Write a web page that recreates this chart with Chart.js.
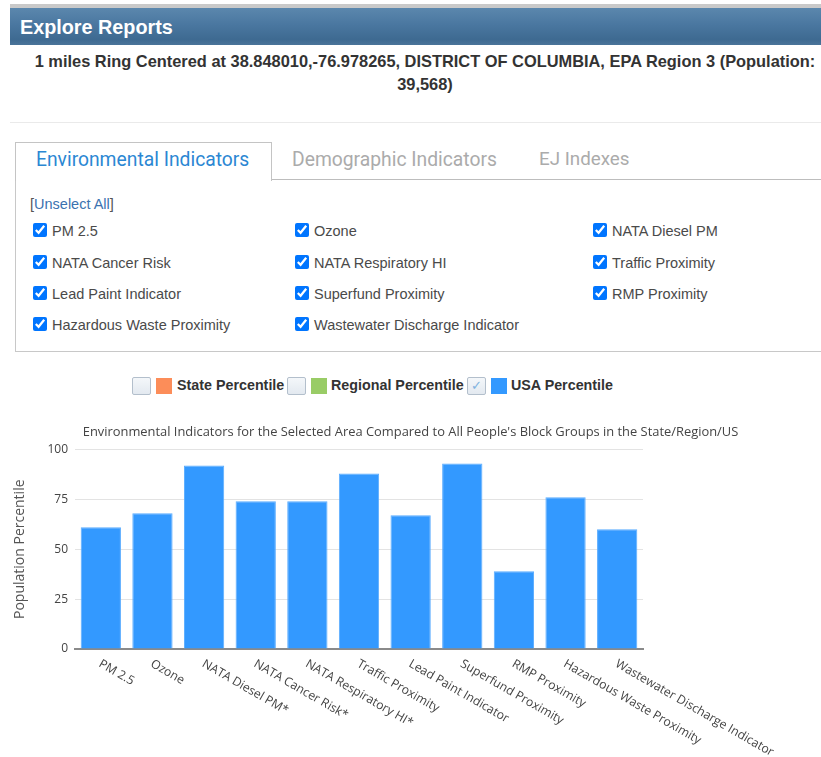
<!DOCTYPE html>
<html>
<head>
<meta charset="utf-8">
<script src="https://cdn.jsdelivr.net/npm/chart.js@4.4.1/dist/chart.umd.min.js"></script>
<style>
  html, body { margin:0; padding:0; background:#fff; }
  body { width:821px; height:757px; overflow:hidden; position:relative; font-family:"Liberation Sans", Arial, sans-serif; }
  .abs { position:absolute; white-space:nowrap; }
  #topline { left:10px; top:4px; width:830px; height:4px; background:#c9c9c9; }
  #header { left:10px; top:8px; width:830px; height:37px;
    background:linear-gradient(to bottom, #5b87ad 0%, #4a77a0 45%, #3e6a91 85%, #4a7499 100%); }
  #header span { position:absolute; left:10px; top:8px; font:bold 19.8px "Liberation Sans", Arial, sans-serif; color:#fff; }
  #subtitle { left:10px; top:50px; width:830px; text-align:center; font:bold 16.4px "Liberation Sans", Arial, sans-serif; line-height:23px; color:#333; white-space:normal; }
  #hr { left:10px; top:122px; width:830px; height:1px; background:#eaeaea; }
  #tabActive { left:15px; top:142px; width:255px; height:38px; border:1px solid #c4c4c4; border-bottom:none; background:#fff; }
  .tab { font:19.3px Roboto, "Open Sans", sans-serif; top:148px; }
  #tabLine { left:271px; top:179px; width:570px; height:1px; background:#bdbdbd; }
  #panel { left:15px; top:180px; width:830px; height:171px; border:1px solid #c8c8c8; border-top:none; }
  #unselect { left:30px; top:196px; font:14.5px "Liberation Sans", Arial, sans-serif; color:#555; }
  #unselect a { color:#3b72b0; text-decoration:none; }
  .cb { position:absolute; display:flex; align-items:center; font:14.5px "Liberation Sans", Arial, sans-serif; color:#4a4a4a; white-space:nowrap; height:16px; }
  .cb input { margin:0 5px 0 0; width:14px; height:14px; position:relative; top:-1px; }
  .lgbox { position:absolute; width:17px; height:16px; border:1px solid #b3bfcc; background:linear-gradient(#f4f7fa,#e3e9f0); border-radius:2px; top:377px; color:#7fb2e0; font:bold 13px "DejaVu Sans", sans-serif; text-align:center; line-height:16px; }
  .lgsw { position:absolute; width:16px; height:16px; top:378px; }
  .lgtx { position:absolute; top:377px; font:bold 14.3px "Liberation Sans", Arial, sans-serif; color:#333; line-height:17px; white-space:nowrap; }
  #chartWrap { position:absolute; left:0; top:415px; width:821px; height:342px; }
</style>
</head>
<body>
<div class="abs" id="topline"></div>
<div class="abs" id="header"><span>Explore Reports</span></div>
<div class="abs" id="subtitle">1 miles Ring Centered at 38.848010,-76.978265, DISTRICT OF COLUMBIA, EPA Region 3 (Population:<br>39,568)</div>
<div class="abs" id="hr"></div>
<div class="abs" id="panel"></div>
<div class="abs" id="tabLine"></div>
<div class="abs" id="tabActive"></div>
<div class="abs tab" style="left:36px;color:#2b87d3;">Environmental Indicators</div>
<div class="abs tab" style="left:292px;color:#ababab;">Demographic Indicators</div>
<div class="abs tab" style="left:539px;color:#ababab;font-size:18.8px;">EJ Indexes</div>
<div class="abs" id="unselect">[<a href="#">Unselect All</a>]</div>
<div id="checks"></div>

<div class="lgbox" style="left:132px;"></div>
<div class="lgsw" style="left:156px;background:#fc8d59;"></div>
<div class="lgtx" style="left:177px;">State Percentile</div>
<div class="lgbox" style="left:287px;"></div>
<div class="lgsw" style="left:311px;background:#99cc66;"></div>
<div class="lgtx" style="left:331px;">Regional Percentile</div>
<div class="lgbox" style="left:467px;">✓</div>
<div class="lgsw" style="left:491px;background:#3399ff;"></div>
<div class="lgtx" style="left:511px;">USA Percentile</div>

<div id="chartWrap"><canvas id="chart" width="821" height="342"></canvas></div>

<script>
// ---- data ----
const checkboxItems = [
  "PM 2.5", "Ozone", "NATA Diesel PM",
  "NATA Cancer Risk", "NATA Respiratory HI", "Traffic Proximity",
  "Lead Paint Indicator", "Superfund Proximity", "RMP Proximity",
  "Hazardous Waste Proximity", "Wastewater Discharge Indicator"
];
const categories = [
  "PM 2.5", "Ozone", "NATA Diesel PM*", "NATA Cancer Risk*", "NATA Respiratory HI*",
  "Traffic Proximity", "Lead Paint Indicator", "Superfund Proximity", "RMP Proximity",
  "Hazardous Waste Proximity", "Wastewater Discharge Indicator"
];
const usaPercentile = [61, 68, 92, 74, 74, 88, 67, 93, 39, 76, 60];
const yTicks = [0, 25, 50, 75, 100];
const chartTitle = "Environmental Indicators for the Selected Area Compared to All People's Block Groups in the State/Region/US";
const yAxisTitle = "Population Percentile";

// ---- checkbox list ----
const rowTops = [223, 255, 286, 317];
const colLefts = [33, 295, 593];
const checksDiv = document.getElementById('checks');
checkboxItems.forEach((name, i) => {
  const r = Math.floor(i / 3), c = i % 3;
  const lab = document.createElement('label');
  lab.className = 'cb';
  lab.style.left = colLefts[c] + 'px';
  lab.style.top = rowTops[r] + 'px';
  lab.innerHTML = '<input type="checkbox" checked><span></span>';
  lab.querySelector('span').textContent = name;
  checksDiv.appendChild(lab);
});

// ---- chart ----
const rotatedLabels = {
  id: 'rotatedLabels',
  afterDraw(chart) {
    const { ctx } = chart;
    const x = chart.scales.x;
    ctx.save();
    ctx.font = '12.2px "Open Sans"';
    ctx.fillStyle = '#444';
    ctx.textAlign = 'left';
    ctx.textBaseline = 'middle';
    categories.forEach((lab, i) => {
      const px = x.getPixelForTick(i);
      ctx.save();
      ctx.translate(px - 1, x.top + 14);
      ctx.rotate(Math.PI / 6);
      ctx.fillText(lab, 0, 0);
      ctx.restore();
    });
    ctx.restore();
  }
};

Chart.defaults.font.family = '"Open Sans", sans-serif';
new Chart(document.getElementById('chart'), {
  type: 'bar',
  data: {
    labels: categories,
    datasets: [{
      label: 'USA Percentile',
      data: usaPercentile,
      backgroundColor: '#3399ff',
      borderColor: '#5aacff',
      borderWidth: 1,
      barPercentage: 0.78,
      categoryPercentage: 1.0
    }]
  },
  options: {
    responsive: false,
    devicePixelRatio: 1,
    animation: false,
    layout: { padding: 0 },
    plugins: {
      legend: { display: false },
      tooltip: { enabled: false },
      title: {
        display: true,
        text: chartTitle,
        color: '#444',
        font: { size: 12.9, weight: 'normal' },
        padding: { top: 10, bottom: 9 }
      }
    },
    scales: {
      x: {
        grid: { display: false },
        border: { display: true, color: '#8a8a8a', width: 2 },
        ticks: { display: false },
        afterFit(scale) { scale.height = 108; }
      },
      y: {
        min: 0, max: 100,
        afterBuildTicks(scale) { scale.ticks = yTicks.map(v => ({ value: v })); },
        ticks: { color: '#444', font: { size: 12 }, padding: 7 },
        grid: { color: '#e3e3e3', lineWidth: 1, drawTicks: false },
        border: { display: false },
        title: { display: true, text: yAxisTitle, color: '#555', font: { size: 14 }, padding: { top: 12, bottom: 0 } },
        afterFit(scale) { scale.width = 75; }
      },
      yRight: {
        position: 'right',
        min: 0, max: 100,
        grid: { display: false, drawTicks: false },
        border: { display: false },
        ticks: { display: false },
        afterFit(scale) { scale.width = 178; }
      }
    }
  },
  plugins: [rotatedLabels]
});
</script>
</body>
</html>
